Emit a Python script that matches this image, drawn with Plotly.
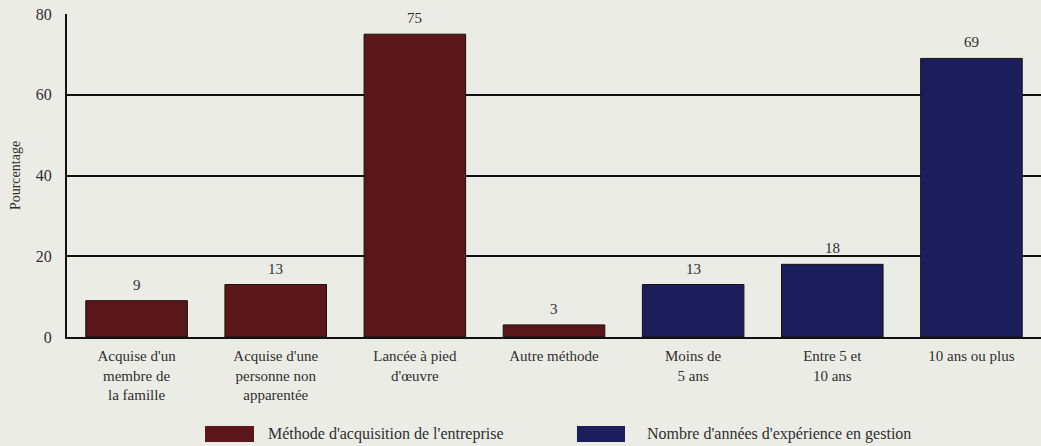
import plotly.graph_objects as go

categories = ["Acquise d'un<br>membre de<br>la famille", "Acquise d'une<br>personne non<br>apparentée",
              "Lancée à pied<br>d'œuvre", "Autre méthode", "Moins de<br>5 ans", "Entre 5 et<br>10 ans",
              "10 ans ou plus"]
series1_name = "Méthode d'acquisition de l'entreprise"
series1_cats = categories[:4]
series1_vals = [9, 13, 75, 3]
series2_name = "Nombre d'années d'expérience en gestion"
series2_cats = categories[4:]
series2_vals = [13, 18, 69]
y_ticks = [0, 20, 40, 60, 80]

RED = "#5b1619"
BLUE = "#1c1e5c"
BG = "#ecece6"
FONT = "Liberation Serif"
TXT = "#2e2e2e"

fig = go.Figure()
for cats, vals, name, col in [(series1_cats, series1_vals, series1_name, RED),
                              (series2_cats, series2_vals, series2_name, BLUE)]:
    fig.add_trace(go.Bar(x=cats, y=vals, name=name, marker_color=col,
                         marker_line=dict(color="#1a1010", width=1)))
    for c, v in zip(cats, vals):
        fig.add_annotation(x=c, y=v, text=str(v), showarrow=False, yanchor="bottom",
                           yshift=6, font=dict(size=15, color=TXT))

fig.update_layout(
    width=1041, height=446,
    margin=dict(l=67, r=0, t=14, b=109),
    paper_bgcolor=BG, plot_bgcolor=BG,
    font=dict(family=FONT, color=TXT, size=15),
    barmode="relative", bargap=0.27,
    showlegend=False,
    xaxis=dict(categoryorder="array", categoryarray=categories, showline=True, linecolor="#111",
               linewidth=2, ticks="", tickfont=dict(size=15), showgrid=False, ticklabelstandoff=4),
    yaxis=dict(range=[0, 80], tickvals=y_ticks, showgrid=True, gridcolor="#111", gridwidth=1.5,
               showline=True, linecolor="#111", linewidth=2, ticks="", zeroline=False,
               tickfont=dict(size=16), ticklabelstandoff=10,
               title=dict(text="Pourcentage", font=dict(size=14), standoff=12)),
)

# legend swatches and labels (wide swatches as in the reference)
legend_items = [(series1_name, RED, 0.1417, 0.192, 0.2043),
                (series2_name, BLUE, 0.5236, 0.5729, 0.5934)]
for name, col, x0, x1, xt in legend_items:
    fig.add_shape(type="rect", xref="paper", yref="paper",
                  x0=x0, x1=x1, y0=-0.325, y1=-0.2755,
                  fillcolor=col, line=dict(width=0))
    fig.add_annotation(xref="paper", yref="paper", x=xt, y=-0.300, text=name,
                       showarrow=False, xanchor="left", yanchor="middle", font=dict(size=16))

fig.write_html("out.html", config={"displayModeBar": False})
with open("out.html", encoding="utf-8") as f:
    html = f.read()
html = html.replace("<body>", '<body style="margin:0;overflow:hidden">', 1)
with open("out.html", "w", encoding="utf-8") as f:
    f.write(html)
